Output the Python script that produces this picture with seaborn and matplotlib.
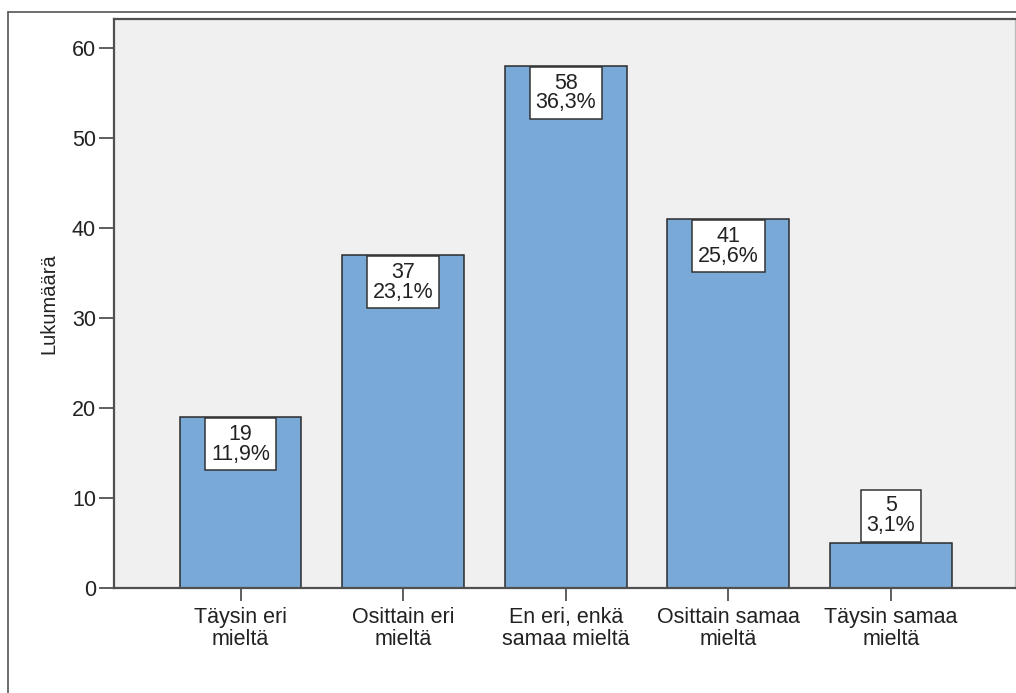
import matplotlib
matplotlib.use("Agg")
import matplotlib.pyplot as plt
from matplotlib.lines import Line2D
import seaborn as sns

# answer categories (Finnish Likert scale)
categories = ["Täysin eri\nmieltä", "Osittain eri\nmieltä", "En eri, enkä\nsamaa mieltä",
              "Osittain samaa\nmieltä", "Täysin samaa\nmieltä"]
counts = [19, 37, 58, 41, 5]
percents = [11.9, 23.1, 36.3, 25.6, 3.1]
yticks = [0, 10, 20, 30, 40, 50, 60]

sns.set_style("white")
plt.rcParams['font.family'] = ['Liberation Sans', 'DejaVu Sans']

fig = plt.figure(figsize=(10.16, 6.93), dpi=100)
ax = fig.add_axes([114 / 1016, 1 - 588 / 693, 901 / 1016, 569 / 693])
ax.set_facecolor("#F0F0F0")

sns.barplot(x=categories, y=counts, color="#79A9D7", saturation=1, width=0.75,
            edgecolor="#2b2b2b", linewidth=1.1, ax=ax)

fs = 15.5
ax.set_xlim(-0.778, 4.763)
ax.set_ylim(0, 63.2)
ax.set_yticks(yticks)
ax.set_ylabel("Lukumäärä", fontsize=14.5, color="#222222", labelpad=10)
ax.set_xlabel("")
ax.tick_params(axis="y", direction="out", length=11, width=1.1, color="#333333",
               labelsize=fs, labelcolor="#222222", pad=2, left=True)
ax.tick_params(axis="x", direction="out", length=9, width=1.1, color="#333333",
               labelsize=fs, labelcolor="#222222", pad=4.5, bottom=True)
for lbl in ax.get_xticklabels():
    lbl.set_multialignment("center")
    lbl.set_linespacing(1.07)

for side in ["left", "top", "bottom"]:
    ax.spines[side].set_color("#505050")
    ax.spines[side].set_linewidth(1.6)
ax.spines["right"].set_color("#BBBBBB")
ax.spines["right"].set_linewidth(1.0)

# count / percent boxes
pad = 0.27
for i, (c, p) in enumerate(zip(counts, percents)):
    txt = f"{c}\n{p:.1f}%".replace(".", ",")
    if c > 8:
        ax.annotate(txt, xy=(i, c), xytext=(0, -pad * fs - 0.8), textcoords="offset points",
                    ha="center", va="top", fontsize=fs, color="#222222", linespacing=0.92,
                    bbox=dict(boxstyle=f"square,pad={pad}", fc="white", ec="#333333", lw=1.1))
    else:
        ax.annotate(txt, xy=(i, c), xytext=(0, pad * fs + 0.8), textcoords="offset points",
                    ha="center", va="bottom", fontsize=fs, color="#222222", linespacing=0.92,
                    bbox=dict(boxstyle=f"square,pad={pad}", fc="white", ec="#333333", lw=1.1))

# outer frame of the chart
fig.add_artist(Line2D([8 / 1016, 8 / 1016], [0, 1 - 12 / 693], transform=fig.transFigure,
                      color="#555555", lw=1.2))
fig.add_artist(Line2D([8 / 1016, 1], [1 - 12 / 693, 1 - 12 / 693], transform=fig.transFigure,
                      color="#555555", lw=1.2))

fig.savefig("out.png", dpi=100, facecolor="white")
